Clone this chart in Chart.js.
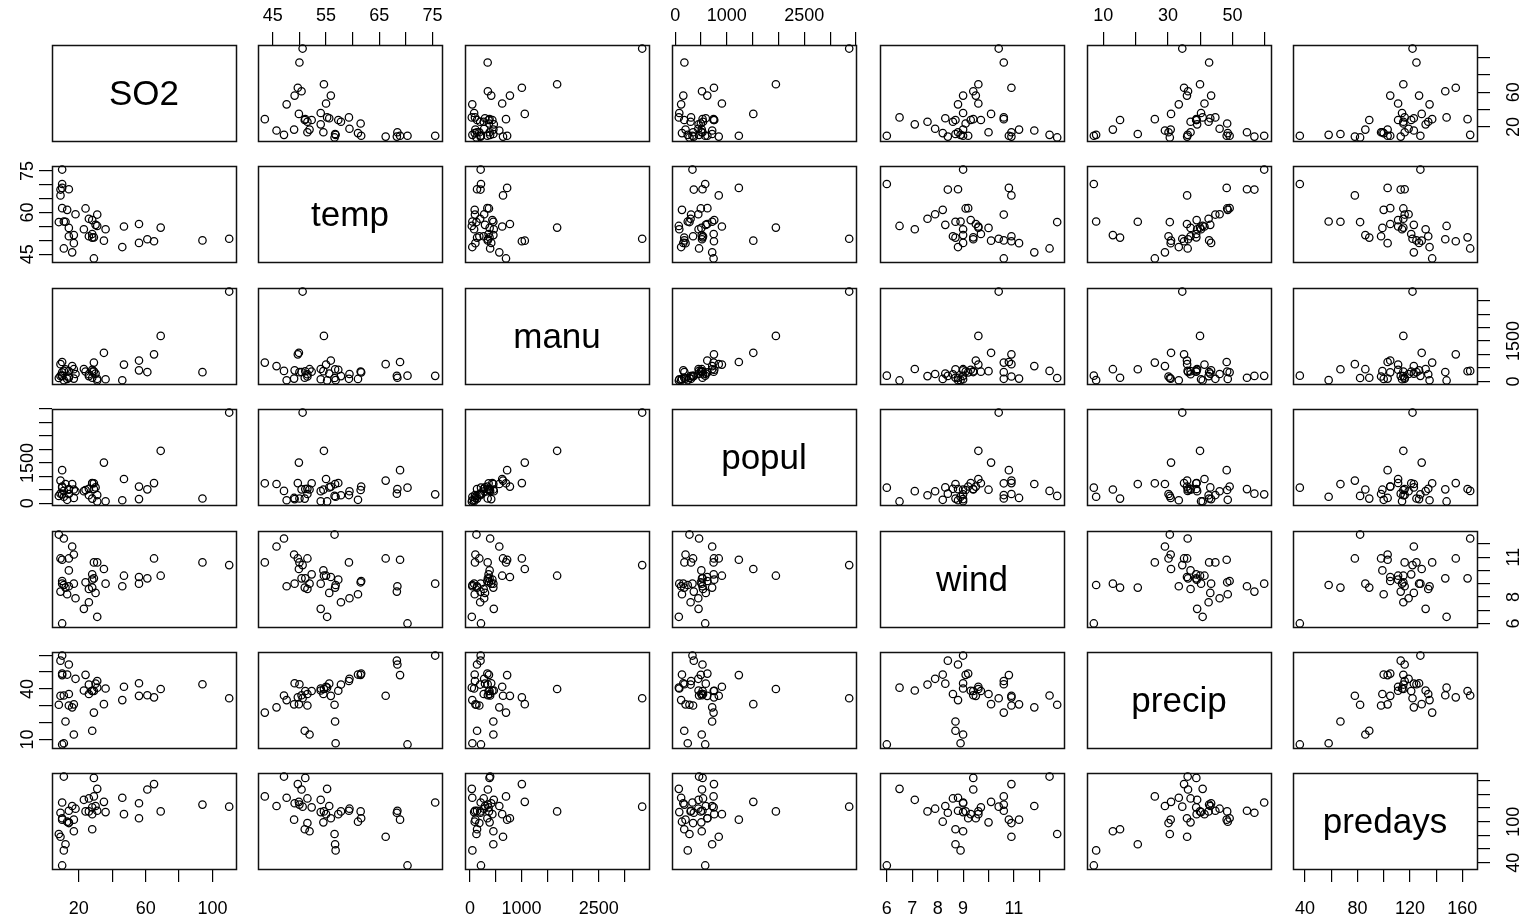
<!DOCTYPE html>
<html>
<head>
<meta charset="utf-8">
<script src="https://cdn.jsdelivr.net/npm/chart.js@4.4.0/dist/chart.umd.min.js"></script>
<style>
  html, body { margin: 0; background: #fff; }
  #wrap { position: relative; width: 1531px; height: 920px; overflow: hidden; }
  #wrap canvas { position: absolute; }
</style>
</head>
<body>
<div id="wrap"></div>
<script>
// USairpollution, 41 cities
const cities = ['Albany','Albuquerque','Atlanta','Baltimore','Buffalo','Charleston','Chicago','Cincinnati',
  'Cleveland','Columbus','Dallas','Denver','Des Moines','Detroit','Hartford','Houston','Indianapolis',
  'Jacksonville','Kansas City','Little Rock','Louisville','Memphis','Miami','Milwaukee','Minneapolis',
  'Nashville','New Orleans','Norfolk','Omaha','Philadelphia','Phoenix','Pittsburgh','Providence',
  'Richmond','Salt Lake City','San Francisco','Seattle','St. Louis','Washington','Wichita','Wilmington'];
const SO2 = [46,11,24,47,11,31,110,23,65,26,9,17,17,35,56,10,28,14,14,13,30,10,10,16,29,18,9,31,14,69,10,61,94,26,28,12,29,56,28,8,36];
const temp = [47.6,56.8,61.5,55.0,47.1,55.2,50.6,54.0,49.7,51.5,66.2,51.9,49.0,49.9,49.1,68.9,52.3,68.4,54.5,61.0,
  55.6,61.6,75.5,45.7,43.5,59.4,68.3,59.3,51.5,54.6,70.3,50.4,50.0,57.8,51.0,56.7,51.1,55.9,57.3,56.6,54.0];
const manu = [44,46,368,625,391,35,3344,462,1007,266,641,454,104,1064,412,721,361,136,381,91,291,337,207,569,699,
  275,204,96,181,1692,213,347,343,197,137,453,379,775,434,125,80];
const popul = [116,244,497,905,463,71,3369,453,751,540,844,515,201,1513,158,1233,746,529,507,132,593,624,335,717,744,
  448,361,308,347,1950,582,520,179,299,176,716,531,622,757,277,80];
const wind = [8.8,8.9,9.1,9.6,12.4,6.5,10.4,7.1,10.9,8.6,10.9,9.0,11.2,10.1,9.0,10.8,9.7,8.8,10.0,8.2,8.3,9.2,9.0,11.8,
  10.6,7.9,8.4,10.6,10.9,9.6,6.0,9.4,10.6,7.6,8.7,8.7,9.4,9.5,9.3,12.7,9.0];
const precip = [33.36,7.77,48.34,41.31,36.11,40.75,34.44,39.04,34.99,37.01,35.94,12.95,30.85,30.96,43.37,48.19,38.74,
  54.47,37.00,48.52,43.11,49.10,59.80,29.07,25.94,46.00,56.77,44.68,30.18,39.93,7.05,36.22,42.75,42.59,15.17,20.66,
  38.79,35.89,38.89,30.58,40.25];
const predays = [135,58,115,111,166,148,122,132,155,134,78,86,103,129,127,103,121,116,99,100,123,105,128,123,137,119,
  113,116,98,115,36,147,125,115,89,67,164,105,111,82,114];

const varNames = ['SO2', 'temp', 'manu', 'popul', 'wind', 'precip', 'predays'];
const series = { SO2, temp, manu, popul, wind, precip, predays };

// tick marks of each variable's axis
const tickVals = {
  SO2: [20, 40, 60, 80, 100],
  temp: [45, 50, 55, 60, 65, 70, 75],
  manu: [0, 500, 1000, 1500, 2000, 2500, 3000],
  popul: [0, 500, 1000, 1500, 2000, 2500, 3000, 3500],
  wind: [6, 7, 8, 9, 10, 11, 12],
  precip: [10, 20, 30, 40, 50, 60],
  predays: [40, 60, 80, 100, 120, 140, 160]
};
// labels that are printed (the others only get a tick)
const xTickLabels = {
  SO2: [20, 60, 100], temp: [45, 55, 65, 75], manu: [0, 1000, 2500], popul: [0, 1000, 2500],
  wind: [6, 7, 8, 9, 11], precip: [10, 30, 50], predays: [40, 80, 120, 160]
};
const yTickLabels = {
  SO2: [20, 60], temp: [45, 60, 75], manu: [0, 1500], popul: [0, 1500],
  wind: [6, 8, 11], precip: [10, 40], predays: [40, 100]
};

// layout of the 7x7 grid
const colLeft = [52, 258, 465, 672, 880, 1087, 1293];
const rowTop = [45, 166, 288, 409, 531, 652, 773];
const W = 184, H = 96, M = 50, TICK = 13;
const FONT = "'Liberation Sans', Arial, sans-serif";
const TICK_FONT = { family: FONT, size: 18 };

const meas = document.createElement('canvas').getContext('2d');
function widest(labels) {
  meas.font = '18px ' + FONT;
  return Math.max(0, ...labels.map(l => meas.measureText(String(l)).width));
}

// like R: data range stretched by 4% on both ends
function range(name) {
  const v = series[name];
  const lo = Math.min(...v), hi = Math.max(...v);
  const d = (hi - lo) * 0.04;
  return [lo - d, hi + d];
}

function scaleOpts(name, axis, pos) {
  const [lo, hi] = range(name);
  const shown = axis === 'x' ? xTickLabels[name] : yTickLabels[name];
  const o = {
    type: 'linear',
    min: lo,
    max: hi,
    display: !!pos,
    position: pos || (axis === 'x' ? 'bottom' : 'left'),
    afterBuildTicks: s => { s.ticks = tickVals[name].map(t => ({ value: t })); },
    afterFit: s => {
      if (!pos) return;
      if (axis === 'x') s.height = M; else s.width = M;
    },
    grid: { display: true, drawOnChartArea: false, drawTicks: true, tickLength: TICK, color: '#000', lineWidth: 1.2 },
    border: { display: false },
    ticks: {
      color: '#000',
      font: TICK_FONT,
      autoSkip: false,
      minRotation: 0,
      maxRotation: 0,
      callback: v => shown.includes(v) ? String(v) : ''
    }
  };
  if (pos === 'top') o.ticks.padding = 5;
  if (pos === 'bottom') o.ticks.padding = 16;
  if (pos === 'left' || pos === 'right') {
    const w = widest(shown);
    o.ticks.minRotation = 90;
    o.ticks.maxRotation = 90;
    o.ticks.crossAlign = 'center';
    o.ticks.padding = (pos === 'left' ? 11 : 24) - w / 2;
  }
  return o;
}

const framePlugin = {
  id: 'frame',
  beforeDatasetsDraw(chart) {
    const { left, top, right, bottom } = chart.chartArea;
    const ctx = chart.ctx;
    ctx.save();
    ctx.strokeStyle = '#111';
    ctx.lineWidth = 1.5;
    ctx.strokeRect(Math.round(left) + 0.5, Math.round(top) + 0.5, Math.round(right - left), Math.round(bottom - top));
    ctx.restore();
  }
};

const diagLabel = {
  id: 'diagLabel',
  afterDraw(chart, args, opts) {
    if (!opts.text) return;
    const { left, top, right, bottom } = chart.chartArea;
    const ctx = chart.ctx;
    ctx.save();
    ctx.fillStyle = '#000';
    ctx.font = '35px ' + FONT;
    ctx.textAlign = 'center';
    ctx.textBaseline = 'middle';
    ctx.fillText(opts.text, (left + right) / 2, (top + bottom) / 2 + 2);
    ctx.restore();
  }
};

const wrap = document.getElementById('wrap');
const n = varNames.length;

for (let i = 0; i < n; i++) {      // row -> y variable
  for (let j = 0; j < n; j++) {    // column -> x variable
    const xv = varNames[j], yv = varNames[i];
    let xPos = null, yPos = null;
    if (i === 0 && j % 2 === 1) xPos = 'top';
    if (i === n - 1 && j % 2 === 0) xPos = 'bottom';
    if (j === 0 && i % 2 === 1) yPos = 'left';
    if (j === n - 1 && i % 2 === 0) yPos = 'right';

    const cv = document.createElement('canvas');
    cv.width = W + 2 * M;
    cv.height = H + 2 * M;
    cv.style.left = (colLeft[j] - M) + 'px';
    cv.style.top = (rowTop[i] - M) + 'px';
    wrap.appendChild(cv);

    const pts = i === j ? [] : series[xv].map((x, k) => ({ x, y: series[yv][k] }));

    new Chart(cv, {
      type: 'scatter',
      data: {
        datasets: [{
          label: yv + ' vs ' + xv,
          data: pts,
          pointStyle: 'circle',
          pointRadius: 3.7,
          pointBorderWidth: 1.25,
          pointBorderColor: '#000',
          pointBackgroundColor: 'rgba(0,0,0,0)',
          clip: false
        }]
      },
      options: {
        responsive: false,
        animation: false,
        events: [],
        layout: {
          padding: {
            left: yPos === 'left' ? 0 : M,
            right: yPos === 'right' ? 0 : M,
            top: xPos === 'top' ? 0 : M,
            bottom: xPos === 'bottom' ? 0 : M
          }
        },
        scales: {
          x: scaleOpts(xv, 'x', xPos),
          y: scaleOpts(yv, 'y', yPos)
        },
        plugins: {
          legend: { display: false },
          tooltip: { enabled: false },
          diagLabel: { text: i === j ? yv : '' }
        }
      },
      plugins: [framePlugin, diagLabel]
    });
  }
}
</script>
</body>
</html>
